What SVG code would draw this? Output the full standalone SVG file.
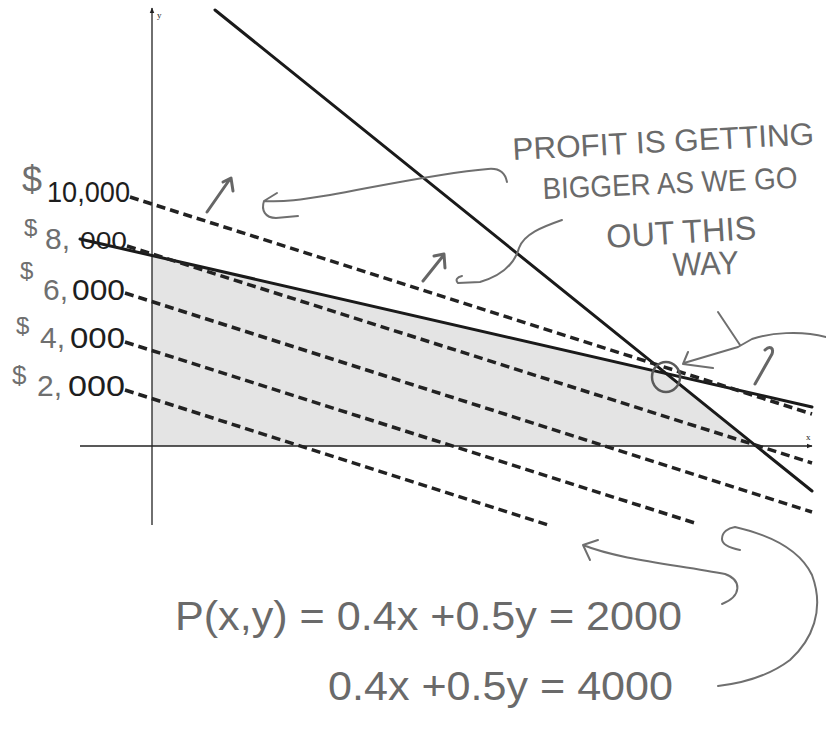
<svg xmlns="http://www.w3.org/2000/svg" width="826" height="729" viewBox="0 0 826 729">
<style>
.axis{stroke:#222;stroke-width:1.3;fill:none}
.solid{stroke:#1a1a1a;stroke-width:3;fill:none;stroke-linecap:round}
.dash{stroke:#222;stroke-width:3.5;fill:none;stroke-dasharray:9 5}
.pen{stroke:#6f6f6f;stroke-width:2;fill:none;stroke-linecap:round;stroke-linejoin:round}
.penb{stroke:#666;stroke-width:3;fill:none;stroke-linecap:round;stroke-linejoin:round}
.hand{font-family:"Liberation Sans",Arial,sans-serif;fill:#6a6a6a}
.num{font-family:"Liberation Sans",Arial,sans-serif;font-size:30px}
.g{fill:#6f6f6f}
.k{fill:#1e1e1e}
.tiny{font-family:"Liberation Serif",serif;font-size:9px;fill:#222}
</style>
<defs>
<marker id="ah" viewBox="0 0 10 10" refX="9" refY="5" markerWidth="6" markerHeight="6" orient="auto" markerUnits="userSpaceOnUse"><path d="M0,1 L10,5 L0,9 z" fill="#222"/></marker>
</defs>

<g id="feasible-region">
<polygon points="152,256 666,374 756,446 152,446" fill="#e4e4e4"/>
</g>

<g id="axes">
<line class="axis" x1="80" y1="446" x2="812" y2="446" marker-end="url(#ah)"/>
<line class="axis" x1="152" y1="525" x2="152" y2="8" marker-end="url(#ah)"/>
<text class="tiny" x="157" y="18">y</text>
<text class="tiny" x="806" y="440">x</text>
</g>

<g id="connectors">
<line class="solid" x1="215" y1="10" x2="812" y2="491"/>
<line class="solid" x1="80" y1="239" x2="812" y2="407"/>
<line class="dash" x1="130" y1="197" x2="812" y2="414"/>
<line class="dash" x1="127" y1="246" x2="812" y2="463"/>
<line class="dash" x1="125" y1="293" x2="812" y2="512"/>
<line class="dash" x1="125" y1="342" x2="698" y2="524"/>
<line class="dash" x1="125" y1="390" x2="548" y2="525"/>
</g>

<g id="labels">
<text class="num"><tspan class="g" x="22" y="192" font-size="36">$</tspan><tspan class="k" x="47" y="202" textLength="83" lengthAdjust="spacingAndGlyphs">10,000</tspan></text>
<text class="num"><tspan class="g" x="24" y="236" font-size="24">$</tspan><tspan class="g" x="45" y="249">8,</tspan><tspan class="k" x="80" y="249" textLength="47" lengthAdjust="spacingAndGlyphs" font-size="24">000</tspan></text>
<text class="num"><tspan class="g" x="20" y="279" font-size="24">$</tspan><tspan class="g" x="43" y="300">6,</tspan><tspan class="k" x="72" y="300" textLength="53" lengthAdjust="spacingAndGlyphs">000</tspan></text>
<text class="num"><tspan class="g" x="16" y="334" font-size="24">$</tspan><tspan class="g" x="40" y="348">4,</tspan><tspan class="k" x="70" y="348" textLength="55" lengthAdjust="spacingAndGlyphs">000</tspan></text>
<text class="num"><tspan class="g" x="12" y="384" font-size="26">$</tspan><tspan class="g" x="37" y="396">2,</tspan><tspan class="k" x="68" y="396" textLength="57" lengthAdjust="spacingAndGlyphs">000</tspan></text>
</g>

<g id="note-profit">
<text class="hand" font-size="31" x="513" y="160" textLength="302" lengthAdjust="spacingAndGlyphs" transform="rotate(-3 513 160)">PROFIT IS GETTING</text>
<text class="hand" font-size="30" x="543" y="199" textLength="255" lengthAdjust="spacingAndGlyphs" transform="rotate(-2.5 543 199)">BIGGER AS WE GO</text>
<text class="hand" font-size="33" x="607" y="248" textLength="150" lengthAdjust="spacingAndGlyphs" transform="rotate(-3.5 607 248)">OUT THIS</text>
<text class="hand" font-size="33" x="673" y="276" textLength="66" lengthAdjust="spacingAndGlyphs" transform="rotate(-2 673 276)">WAY</text>
</g>

<g id="annotation-arrows">
<path class="penb" d="M207,212 L230,179 M223,182 L231,178 L233,191"/>
<path class="penb" d="M423,281 L443,256 M434,256 L444,254 L445,268"/>
<path class="penb" d="M755,384 L772,354 C774,348 770,345 765,350"/>
<path class="pen" d="M507,182 C505,172 498,168 488,169 C440,173 380,186 330,195 C300,200 285,202 264,201 M277,193 L264,201 C261,210 265,218 276,218 L298,216"/>
<path class="pen" d="M562,220 C542,227 524,234 519,248 C515,262 504,275 480,282 L458,283 C455,280 457,277 462,276"/>
<path class="pen" d="M826,337 C800,330 770,333 752,339 L738,347 M718,312 L740,345 M738,347 L684,363 M688,352 L683,364 L713,368"/>
<ellipse cx="666" cy="377" rx="14" ry="15" fill="none" stroke="#5a5a5a" stroke-width="2.5"/>
<path class="pen" d="M598,540 L583,545 L590,560 M583,545 C620,560 680,565 725,574 C742,580 742,596 722,604"/>
<path class="pen" d="M740,550 C730,548 722,545 722,539 C722,532 728,528 735,527 C770,535 800,550 812,575 C825,610 812,640 790,660 C770,675 745,683 718,686"/>
</g>

<g id="equations">
<text class="hand" font-size="40" x="175" y="630" textLength="507" lengthAdjust="spacingAndGlyphs">P(x,y) = 0.4x +0.5y = 2000</text>
<text class="hand" font-size="40" x="328" y="700" textLength="345" lengthAdjust="spacingAndGlyphs">0.4x +0.5y = 4000</text>
</g>
</svg>
